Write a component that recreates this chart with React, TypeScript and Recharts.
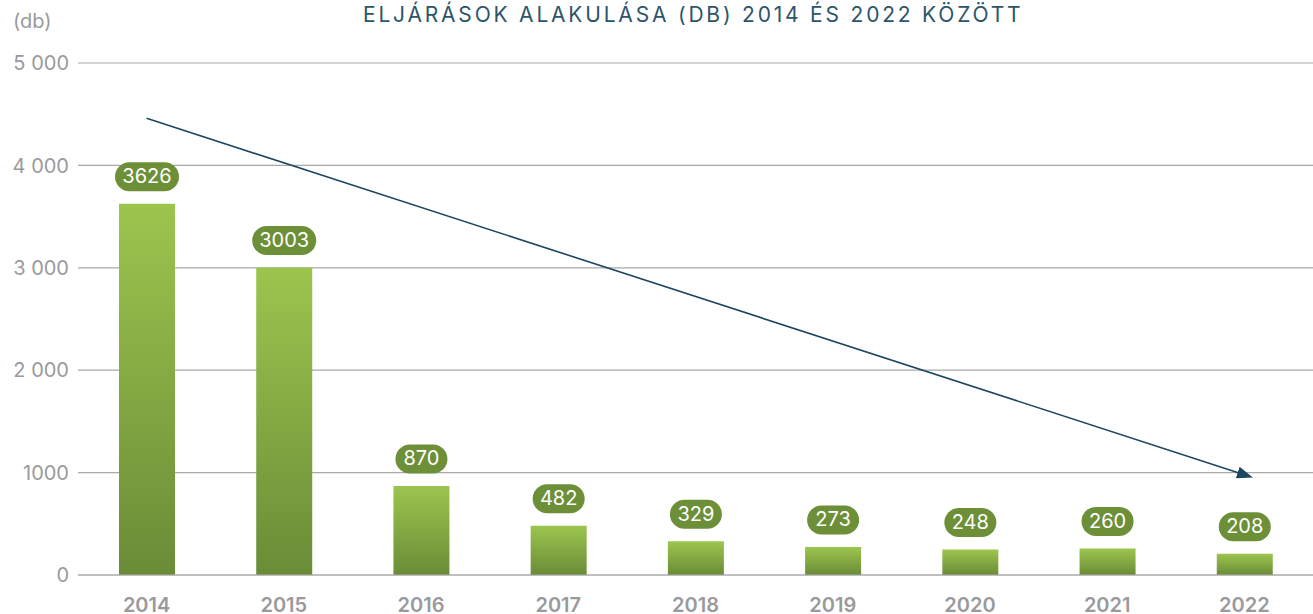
import React from 'react';
import { BarChart, Bar, XAxis, YAxis, CartesianGrid, LabelList, ReferenceLine } from 'recharts';

const years = ['2014', '2015', '2016', '2017', '2018', '2019', '2020', '2021', '2022'];
const cases = [3626, 3003, 870, 482, 329, 273, 248, 260, 208];
const yTicks = [0, 1000, 2000, 3000, 4000, 5000];
const yTickLabels = ['0', '1000', '2 000', '3 000', '4 000', '5 000'];
const trendFrom = { year: '2014', value: 4460 };
const trendTo = { year: '2022', value: 980 };

const data = years.map((year, i) => ({ year, value: cases[i] }));

const GRAY = '#9a9a9c';
const NAVY = '#1d4660';

const PillLabel = (props: any) => {
  const { x, y, width, value } = props;
  const text = String(value);
  const w = text.length * 12 + 16;
  const h = 29;
  const cx = x + width / 2;
  const cy = y - 27;
  return (
    <g>
      <rect x={cx - w / 2} y={cy - h / 2} width={w} height={h} rx={h / 2} fill="#6c8f38" />
      <text
        x={cx}
        y={cy + 1}
        textAnchor="middle"
        dominantBaseline="middle"
        fill="#ffffff"
        fontSize={20}
        fontFamily="Inter, sans-serif"
      >
        {text}
      </text>
    </g>
  );
};

const TrendArrow = (props: any) => {
  const { x1, y1, x2, y2 } = props;
  return (
    <g>
      <defs>
        <marker id="arrowHead" markerWidth="16" markerHeight="12" refX="7" refY="6" orient="auto" markerUnits="userSpaceOnUse">
          <path d="M0,0 L16,6 L0,12 Z" fill={NAVY} />
        </marker>
      </defs>
      <line x1={x1} y1={y1} x2={x2} y2={y2} stroke={NAVY} strokeWidth={1.6} markerEnd="url(#arrowHead)" />
    </g>
  );
};

export default function App() {
  return (
    <div style={{ position: 'absolute', left: 0, top: 0, width: 1313, height: 614, background: '#fff', fontFamily: 'Inter, sans-serif' }}>
      <div style={{ position: 'absolute', left: 363, top: 2, fontSize: 21, letterSpacing: 2.8, color: '#2b5569', whiteSpace: 'nowrap' }}>
        ELJÁRÁSOK ALAKULÁSA (DB) 2014 ÉS 2022 KÖZÖTT
      </div>
      <div style={{ position: 'absolute', left: 13, top: 9, fontSize: 20, color: GRAY }}>(db)</div>
      <BarChart width={1313} height={614} data={data} margin={{ top: 63, right: 0, bottom: 0, left: 0 }}>
        <defs>
          <linearGradient id="barFill" x1="0" y1="0" x2="0" y2="1">
            <stop offset="0%" stopColor="#9cc54e" />
            <stop offset="100%" stopColor="#6a8c37" />
          </linearGradient>
        </defs>
        <CartesianGrid vertical={false} stroke="#a9a9ab" strokeWidth={1.2} />
        <XAxis
          dataKey="year"
          height={39}
          tickLine={false}
          axisLine={{ stroke: '#a9a9ab', strokeWidth: 1.2 }}
          tick={{ fill: GRAY, fontSize: 20, fontWeight: 600, fontFamily: 'Inter, sans-serif' }}
          dy={15}
        />
        <YAxis
          width={78}
          domain={[0, 5000]}
          ticks={yTicks}
          tickLine={false}
          axisLine={false}
          tickFormatter={(v: number) => yTickLabels[yTicks.indexOf(v)]}
          tick={{ fill: GRAY, fontSize: 20, fontFamily: 'Inter, sans-serif' }}
          dx={-1}
        />
        <Bar dataKey="value" fill="url(#barFill)" barSize={56} isAnimationActive={false}>
          <LabelList dataKey="value" content={<PillLabel />} />
        </Bar>
        <ReferenceLine
          segment={[
            { x: trendFrom.year, y: trendFrom.value },
            { x: trendTo.year, y: trendTo.value },
          ]}
          ifOverflow="visible"
          shape={<TrendArrow />}
        />
      </BarChart>
    </div>
  );
}
